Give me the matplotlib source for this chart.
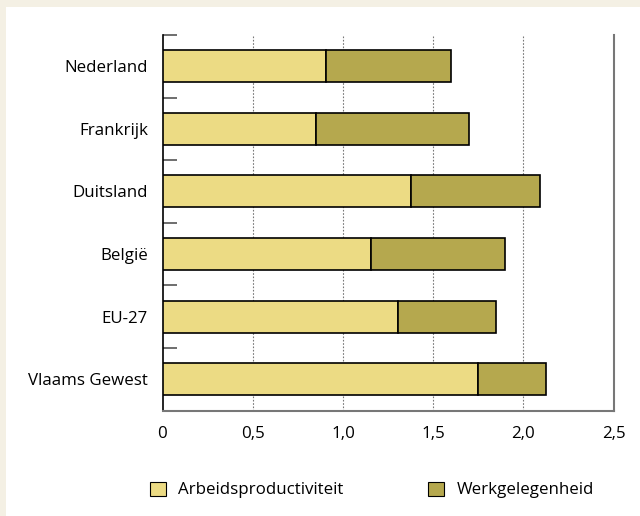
import matplotlib
matplotlib.use("Agg")
import matplotlib.pyplot as plt
from matplotlib.patches import Rectangle, Patch
import numpy as np

plt.rcParams['font.family'] = ['Open Sans', 'DejaVu Sans']

categories = ["Nederland", "Frankrijk", "Duitsland", "België", "EU-27", "Vlaams Gewest"]
arbeidsproductiviteit = [0.906, 0.849, 1.377, 1.155, 1.307, 1.750]
werkgelegenheid = [0.691, 0.849, 0.713, 0.743, 0.539, 0.378]
xticks = [0, 0.5, 1.0, 1.5, 2.0, 2.5]
xticklabels = ["0", "0,5", "1,0", "1,5", "2,0", "2,5"]

c_light = "#ecdb84"
c_dark = "#b5a84e"
fs = 12.2

fig = plt.figure(figsize=(6.4, 5.16), dpi=100)
fig.patch.set_facecolor("#f4f0e4")
fig.add_artist(Rectangle((6/640, 0), 634/640, 509/516, transform=fig.transFigure,
                         facecolor="white", edgecolor="none", zorder=0))

ax = fig.add_axes([162.5/640, 1 - 410.5/516, (613.5-162.5)/640, (410.5-35)/516])
ax.set_facecolor("white")

n = len(categories)
y = np.arange(n)[::-1]
ax.barh(y, arbeidsproductiviteit, height=0.51, color=c_light, edgecolor="black", linewidth=1.2, zorder=3)
ax.barh(y, werkgelegenheid, left=arbeidsproductiviteit, height=0.51, color=c_dark,
        edgecolor="black", linewidth=1.2, zorder=3)

ax.set_xlim(0, 2.5)
ax.set_ylim(-0.5, n - 0.5 + 1e-6)
ax.set_xticks(xticks)
ax.set_xticklabels(xticklabels, fontsize=fs)
ax.set_yticks(y)
ax.set_yticklabels(categories, fontsize=fs)
ax.tick_params(axis='y', which='major', length=0, pad=10.5)
ax.tick_params(axis='x', length=0, pad=11)
ax.set_yticks(np.arange(1, n + 1) - 0.5, minor=True)
ax.tick_params(axis='y', which='minor', direction='in', length=10, width=1.2, color="#555555")

for xv in xticks[1:-1]:
    ax.axvline(xv, color="#777777", linestyle=(0, (1.5, 1.5)), linewidth=0.8, zorder=1)

ax.spines['top'].set_visible(False)
ax.spines['left'].set_color("black")
ax.spines['left'].set_linewidth(1.2)
ax.spines['right'].set_color("#777777")
ax.spines['right'].set_linewidth(1.5)
ax.spines['bottom'].set_color("#777777")
ax.spines['bottom'].set_linewidth(1.5)

handles = [Patch(facecolor=c_light, edgecolor="black", linewidth=0.8),
           Patch(facecolor=c_dark, edgecolor="black", linewidth=0.8)]
fig.legend(handles, ["Arbeidsproductiviteit", "Werkgelegenheid"], loc="center",
           bbox_to_anchor=(372/640, 1 - 490/516), ncol=2, frameon=False, fontsize=fs,
           handlelength=0.9, handleheight=0.9, handletextpad=0.75, columnspacing=5.0)

fig.savefig("out.png", dpi=100, facecolor=fig.get_facecolor())
